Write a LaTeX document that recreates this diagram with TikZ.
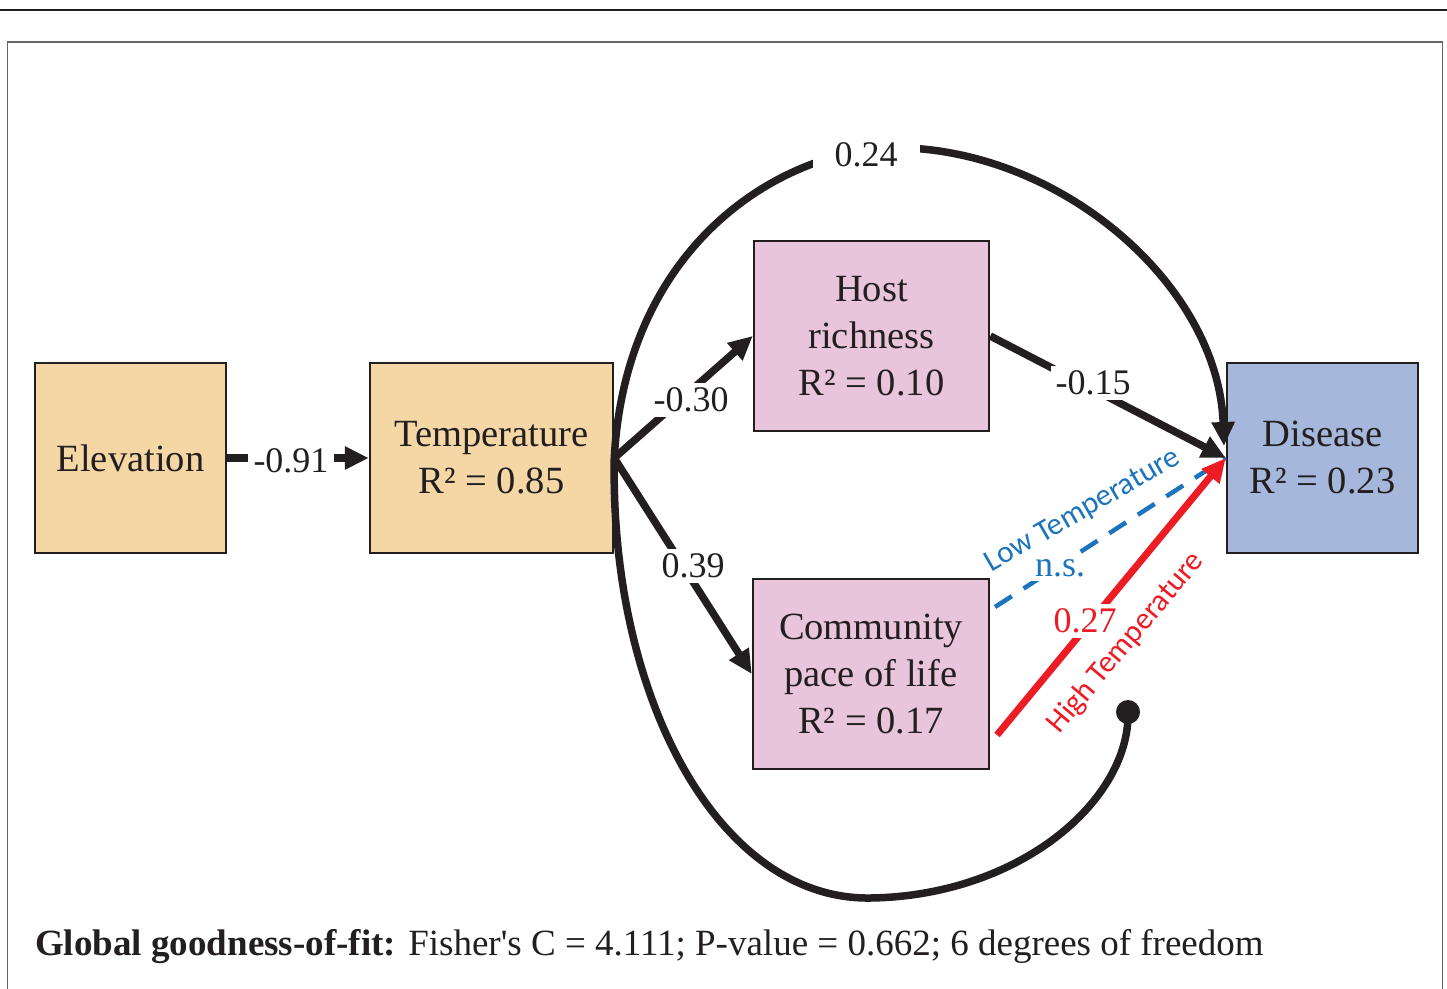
\documentclass[tikz,border=0pt]{standalone}
\usepackage{fontspec}
\setmainfont{Liberation Serif}
\newfontfamily\plainserif{Liberation Serif}
\newfontfamily\calfont{Carlito}
\usetikzlibrary{arrows.meta}
\definecolor{dk}{HTML}{231F20}
\definecolor{orfill}{HTML}{F5D6A5}
\definecolor{pkfill}{HTML}{E8C5DA}
\definecolor{blfill}{HTML}{A5B8DC}
\definecolor{redc}{HTML}{ED1C24}
\definecolor{bluec}{HTML}{1C75BC}
\begin{document}
\begin{tikzpicture}[x=1pt,y=-1pt,
  box/.style={draw=dk, line width=2.5pt, inner sep=0pt, align=center,
    font=\fontsize{38.5}{47}\selectfont, text=dk, minimum height=190pt},
  conn/.style={draw=dk, line width=7.5pt},
  arr/.style={-{Triangle[length=24pt,width=22pt]}},
  lab/.style={fill=white, inner sep=5pt, font=\fontsize{36}{40}\selectfont, text=dk},
  sanslab/.style={font=\calfont\fontsize{31}{34}\selectfont, inner sep=0pt},
  dotn/.style={circle, fill=dk, minimum size=24pt, inner sep=0pt}]
\useasboundingbox (0,0) rectangle (1447,988);
\fill[white] (0,0) rectangle (1447,988);
% top rule and frame
\draw[dk, line width=1.8pt] (0,10) -- (1447,10);
\draw[black!60, line width=1.2pt] (7.5,1010) -- (7.5,42) -- (1442.5,42) -- (1442.5,1010);
% boxes
\node[box, fill=orfill, minimum width=191pt] (elev) at (130.5,458) {Elevation};
\node[box, fill=orfill, minimum width=243pt] (temp) at (491.5,458) {Temperature\\R² = 0.85};
\node[box, fill=pkfill, minimum width=235pt] (host) at (871.5,336) {Host\\richness\\R² = 0.10};
\node[box, fill=pkfill, minimum width=236pt] (comm) at (871,674) {Community\\pace of life\\R² = 0.17};
\node[box, fill=blfill, minimum width=191pt] (dis) at (1322.5,458) {Disease\\R² = 0.23};
% helper points
\coordinate (bS) at (995,607);
\coordinate (rS) at (997,735);
\coordinate (disTop) at (1224,446);
\node[dotn] (mod) at (1128,712) {};
% blue dashed (low temperature)
\draw[bluec, line width=4.5pt, dash pattern=on 20pt off 14pt] (bS) -- (dis.west);
% red (high temperature)
\draw[redc, line width=7pt, arr] (rS) -- (dis.west);
% black connectors
\draw[conn, arr] (elev.east) -- (temp.west);
\draw[conn, arr] (temp.east) -- (host.west);
\draw[conn, arr] (temp.east) -- (comm.west);
\draw[conn, arr] (host.east) -- (dis.west);
\draw[conn, arr] (temp.east) .. controls (625,260) and (760,160) .. (880,148)
   .. controls (1050,140) and (1218,280) .. (disTop);
\draw[conn] (temp.east) .. controls (610,700) and (720,900) .. (870,898)
   .. controls (1020,896) and (1130,800) .. (mod.center);
% labels
\node[lab, inner xsep=6pt, inner ysep=3pt] (l91) at (291,461) {-0.91};
\node[lab] (l30) at (691,400) {-0.30};
\node[lab] (l39) at (693,566) {0.39};
\node[lab] (l15) at (1093,383) {-0.15};
\node[lab, inner xsep=22pt, inner ysep=3pt] (l24) at (866,155) {0.24};
\node[lab, text=redc] (l27) at (1085,621) {0.27};
\node[lab, text=bluec, inner sep=4pt] (lns) at (1060,568) {n.s.};
\node[sanslab, text=bluec, rotate=30] (lowT) at (1083,511) {Low Temperature};
\node[sanslab, text=redc, rotate=50] (highT) at (1126,643) {High Temperature};
% goodness of fit
\node[anchor=base west, inner sep=0pt, text=dk, font=\plainserif\fontsize{37}{40}\selectfont] (gof) at (35,955)
  {\textbf{Global goodness-of-fit:} Fisher's C = 4.111; P-value = 0.662; 6 degrees of freedom};
\end{tikzpicture}
\end{document}
